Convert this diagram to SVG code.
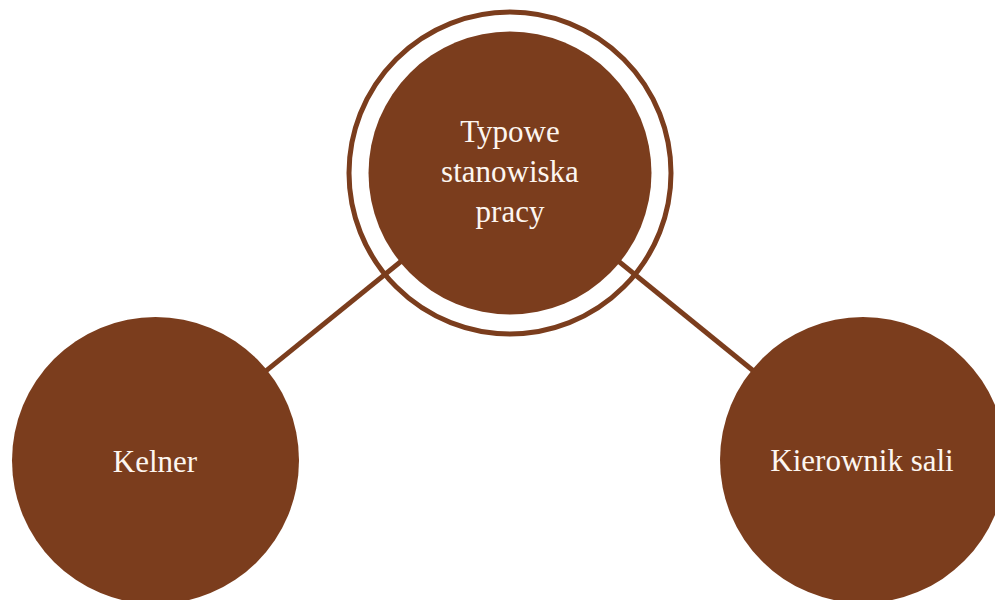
<svg xmlns="http://www.w3.org/2000/svg" width="995" height="600" viewBox="0 0 995 600">
<style>
.node{fill:#7b3d1d}
.ring{fill:none;stroke:#7b3d1d;stroke-width:5}
.edge{stroke:#7b3d1d;stroke-width:5;fill:none}
.lbl{font-family:"Liberation Serif","Times New Roman",serif;font-size:31px;fill:#fdf6f0;text-anchor:middle}
</style>
<rect width="995" height="600" fill="#ffffff"/>
<g id="connectors">
<line class="edge" x1="155.5" y1="460.5" x2="510" y2="173"/>
<line class="edge" x1="863" y1="460" x2="510" y2="173"/>
</g>
<g id="node-center">
<circle class="ring" cx="510" cy="173" r="161"/>
<circle class="node" cx="510" cy="173" r="141.5"/>
<text class="lbl" x="510" y="142">Typowe</text>
<text class="lbl" x="510" y="182">stanowiska</text>
<text class="lbl" x="510" y="222">pracy</text>
</g>
<g id="node-kelner">
<circle class="node" cx="155.5" cy="460.5" r="143.5"/>
<text class="lbl" x="155" y="471.5">Kelner</text>
</g>
<g id="node-kierownik">
<circle class="node" cx="863" cy="460" r="143"/>
<text class="lbl" x="862" y="470.5">Kierownik sali</text>
</g>
</svg>
